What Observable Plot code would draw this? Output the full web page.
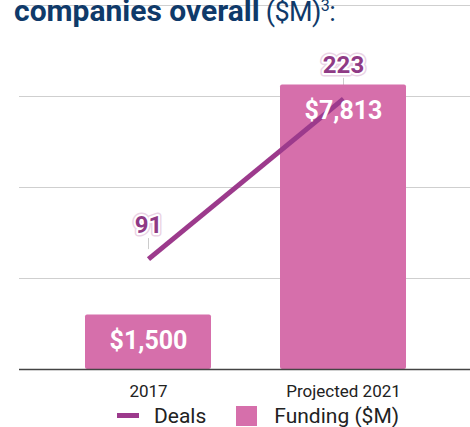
<!DOCTYPE html>
<html>
<head>
<meta charset="utf-8">
<script src="https://cdn.jsdelivr.net/npm/d3@7"></script>
<script src="https://cdn.jsdelivr.net/npm/@observablehq/plot@0.6"></script>
<style>
  html, body { margin: 0; padding: 0; background: #fff; }
  #wrap { position: relative; width: 470px; height: 427px; overflow: hidden; font-family: Roboto, sans-serif; }
  #title { position: absolute; top: -4px; left: 14px; font-size: 30px; line-height: 30px; color: #0f3a6a; white-space: nowrap; z-index: 2; }
  #title b { font-weight: 700; }
  #title .reg { font-size: 27px; letter-spacing: -0.6px; }
  #title sup { font-size: 16px; vertical-align: 10px; line-height: 0; }
  #legend { position: absolute; top: 406px; left: 117px; height: 20px; display: flex; align-items: center; font-size: 21px; color: #222; line-height: 20px; }
  .sw-line { width: 22px; height: 5px; background: #9c3a8c; margin-right: 15px; margin-top: -1px; }
  .sw-box { width: 21px; height: 20px; background: #d66fab; margin-right: 17px; margin-left: 30px; }
</style>
</head>
<body>
<div id="wrap">
  <div id="chart"></div>
  <div id="title"><b>companies overall</b><span class="reg"> ($M)<sup>3</sup>:</span></div>
  <div id="legend">
    <div class="sw-line"></div><span>Deals</span>
    <div class="sw-box"></div><span>Funding ($M)</span>
  </div>
</div>
<script>
const categories = ["2017", "Projected 2021"];
const funding = [1500, 7813];
const fundingLabels = ["$1,500", "$7,813"];
const deals = [91, 223];
const fundingTicks = [0, 2500, 5000, 7500, 10000];
const fundingMax = 10000;
const dealsMax = 300;

const rows = categories.map((c, i) => ({
  cat: c,
  funding: funding[i],
  fundingLabel: fundingLabels[i],
  deals: deals[i],
  dealsY: deals[i] * fundingMax / dealsMax
}));

const leader = {
  draw(context) {
    context.moveTo(0, -21);
    context.lineTo(0, -10);
  }
};

const chart = Plot.plot({
  width: 470,
  height: 400,
  marginTop: 5,
  marginBottom: 31,
  marginLeft: 19,
  marginRight: 0,
  style: { fontFamily: "Roboto, sans-serif", fontSize: "17px", color: "#222", background: "transparent" },
  x: { domain: categories, range: [19, 472], paddingInner: 0.354, paddingOuter: 0.338, tickSize: 0, tickPadding: 15, label: null },
  y: { domain: [0, fundingMax], axis: null },
  marks: [
    Plot.ruleY(fundingTicks.slice(1), { stroke: "#cfcfcf", strokeWidth: 1.2 }),
    Plot.dot(rows, { x: "cat", y: "dealsY", symbol: leader, stroke: "#cccccc", strokeWidth: 1, fill: "none" }),
    Plot.barY(rows, { x: "cat", y: "funding", fill: "#d66fab", rx: 2 }),
    Plot.ruleY([0], { stroke: "#444", strokeWidth: 1.5 }),
    Plot.line(rows, { x: "cat", y: "dealsY", stroke: "#9c3a8c", strokeWidth: 5, strokeLinecap: "butt" }),
    Plot.text(rows, { x: "cat", y: "funding", text: "fundingLabel", dy: 26, fill: "#fff", fontWeight: "bold", fontSize: 25 }),
    Plot.text(rows, { x: "cat", y: "dealsY", text: d => String(d.deals), dy: -34, fill: "#8f3a85", stroke: "#ead3e5", strokeWidth: 7, fontWeight: "bold", fontSize: 24 }),
    Plot.text(rows, { x: "cat", y: "dealsY", text: d => String(d.deals), dy: -34, fill: "#8f3a85", stroke: "#fff", strokeWidth: 4, fontWeight: "bold", fontSize: 24 })
  ]
});
document.getElementById("chart").appendChild(chart);
</script>
</body>
</html>
